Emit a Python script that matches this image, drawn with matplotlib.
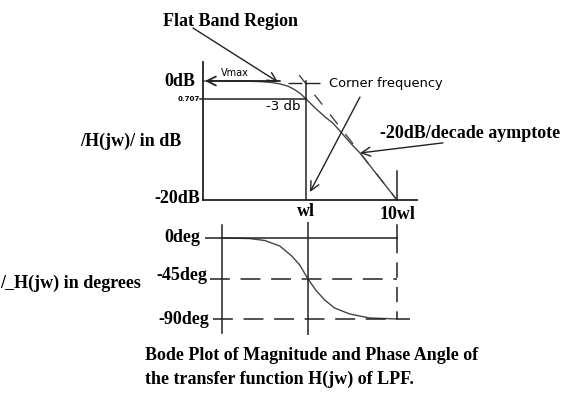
import matplotlib
matplotlib.use("Agg")
import matplotlib.pyplot as plt

# figure size in pixels
W, H = 569, 396

# magnitude curve, w as multiple of wl, value in dB
mag_w = [0.074, 0.19, 0.31, 0.42, 0.52, 0.64, 0.76, 0.88, 1.0, 1.16, 1.36, 1.64, 1.98, 2.3, 2.69, 3.2, 3.92, 10.0]
mag_db = [0, 0, -0.1, -0.25, -0.5, -0.9, -1.5, -2.2, -3.0, -4.0, -5.0, -6.1, -7.1, -8.2, -9.4, -10.7, -12.1, -20.0]

# -20 dB/decade asymptote
asym_w = [0.84, 10.0]
asym_db = [1.0, -20.0]

# 0 dB asymptote stub around the corner
flat_w = [0.63, 1.42]
flat_db = [-0.3, -0.3]

# phase curve, degrees
ph_w = [0.111, 0.227, 0.333, 0.489, 0.664, 0.815, 1.0, 1.227, 1.545, 1.995, 2.93, 4.89, 10.0]
ph_deg = [0, -0.6, -2.8, -8.9, -20, -30, -45, -57.8, -68.9, -77.8, -84.4, -88.9, -90]

mag_labels = ["0dB", "-20dB"]
freq_labels = ["wl", "10wl"]
phase_labels = ["0deg", "-45deg", "-90deg"]

caption = ["Bode Plot of Magnitude and Phase Angle of",
           "the transfer function H(jw) of LPF."]

INK = "#222222"
SERIF = "Liberation Serif"
SANS = "DejaVu Sans"


def fx(x):
    return x / W


def fy(y):
    return 1 - y / H


fig = plt.figure(figsize=(W / 100, H / 100), dpi=100)
fig.patch.set_facecolor("white")

# ---------------- magnitude part ----------------
ax1 = fig.add_axes([fx(203), fy(200), fx(417) - fx(203), fy(62) - fy(200)])
ax1.set_xscale("log")
ax1.set_xlim(0.0738, 16.6)
ax1.set_ylim(-20, 3.19)
ax1.set_xticks([])
ax1.set_yticks([])
ax1.minorticks_off()
for s in ["top", "right"]:
    ax1.spines[s].set_visible(False)
for s in ["left", "bottom"]:
    ax1.spines[s].set_color(INK)
    ax1.spines[s].set_linewidth(1.3)
ax1.patch.set_alpha(0)

ax1.plot(mag_w, mag_db, color="#444444", lw=1.0, clip_on=False)
ax1.plot(asym_w, asym_db, color="#444444", lw=1.0, dashes=(9, 9), clip_on=False)
ax1.plot(flat_w, flat_db, color=INK, lw=1.0, dashes=(10, 3))
ax1.plot([0.068, 1.0], [-3.0, -3.0], color=INK, lw=1.1, clip_on=False)
ax1.plot([1.0, 1.0], [0.0, -20.0], color=INK, lw=1.1)
ax1.plot([10.0, 10.0], [-15.1, -20.0], color=INK, lw=1.1)

arrow = dict(arrowstyle="->", color=INK, lw=1.0, mutation_scale=16, shrinkA=0, shrinkB=0)
# Vmax arrow
ax1.annotate("", xy=(0.0776, 0), xytext=(0.518, 0), arrowprops=dict(arrow, lw=1.3))
# flat band arrow
ax1.annotate("", xy=(0.492, -0.17), xytext=(0.0573, 8.9), arrowprops=arrow, annotation_clip=False)
# corner frequency arrow
ax1.annotate("", xy=(1.107, -18.65), xytext=(3.92, -2.7), arrowprops=arrow, annotation_clip=False)
# asymptote arrow
ax1.annotate("", xy=(3.92, -12.1), xytext=(32.0, -10.4), arrowprops=arrow, annotation_clip=False)

# ---------------- phase part ----------------
ax2 = fig.add_axes([fx(205), fy(335), fx(410) - fx(205), fy(222) - fy(335)])
ax2.set_xscale("log")
ax2.set_xlim(0.0717, 13.8)
ax2.set_ylim(-107.8, 17.8)
ax2.axis("off")

ax2.plot(ph_w, ph_deg, color="#444444", lw=1.0)
ax2.plot([0.0717, 10.0], [0, 0], color=INK, lw=1.1)
ax2.plot([0.0817, 10.0], [-45, -45], color=INK, lw=1.1, dashes=(13, 7))
ax2.plot([0.087, 13.8], [-90, -90], color=INK, lw=1.1, dashes=(13, 7))
ax2.plot([0.111, 0.111], [14.4, -105.6], color=INK, lw=1.1)
ax2.plot([1.0, 1.0], [17.8, -107.8], color=INK, lw=1.1)
ax2.plot([10.0, 10.0], [14.4, 0], color=INK, lw=1.1)
ax2.plot([10.0, 10.0], [0, -90], color=INK, lw=1.1, dashes=(10, 6))

# ---------------- texts ----------------
bold_serif = dict(family=SERIF, weight="bold", color="black")

fig.text(fx(163), fy(22), "Flat Band Region", ha="left", va="center", size=13, **bold_serif)
fig.text(fx(195), fy(81), mag_labels[0], ha="right", va="center", size=13, **bold_serif)
fig.text(fx(200), fy(199), mag_labels[1], ha="right", va="center", size=13, **bold_serif)
fig.text(fx(80), fy(141), "/H(jw)/ in dB", ha="left", va="center", size=13, **bold_serif)
fig.text(fx(306), fy(212), freq_labels[0], ha="center", va="center", size=13, **bold_serif)
fig.text(fx(397), fy(214), freq_labels[1], ha="center", va="center", size=13, **bold_serif)
fig.text(fx(380), fy(133), "-20dB/decade aymptote", ha="left", va="center", size=13, **bold_serif)

fig.text(fx(200), fy(238), phase_labels[0], ha="right", va="center", size=13, **bold_serif)
fig.text(fx(207), fy(276), phase_labels[1], ha="right", va="center", size=13, **bold_serif)
fig.text(fx(209), fy(319), phase_labels[2], ha="right", va="center", size=13, **bold_serif)
fig.text(fx(0.5), fy(283), "/_H(jw) in degrees", ha="left", va="center", size=13, **bold_serif)

fig.text(fx(145), fy(356), caption[0], ha="left", va="center", size=13, **bold_serif)
fig.text(fx(145), fy(379), caption[1], ha="left", va="center", size=13, **bold_serif)

fig.text(fx(329), fy(83), "Corner frequency", ha="left", va="center", size=9.4, family=SANS)
fig.text(fx(266), fy(107), "-3 db", ha="left", va="center", size=9.5, family=SANS)
fig.text(fx(221), fy(73), "Vmax", ha="left", va="center", size=7, family=SANS)
fig.text(fx(200), fy(99), "0.707", ha="right", va="center", size=5, family=SANS, weight="bold")

fig.savefig("out.png", dpi=100, facecolor="white")
